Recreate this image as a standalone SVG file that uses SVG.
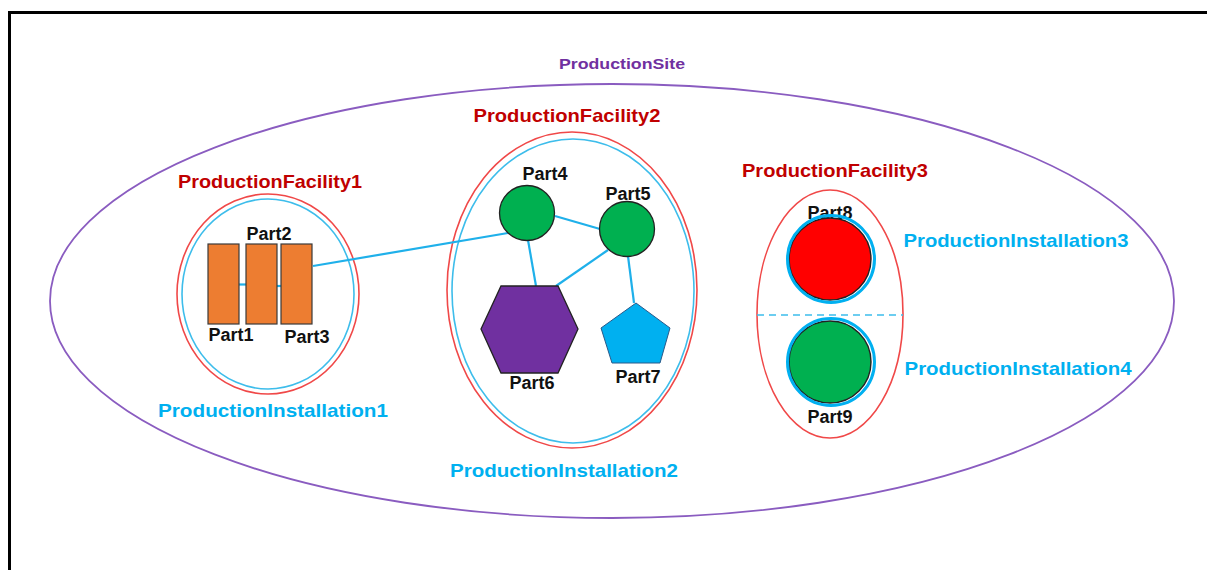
<svg xmlns="http://www.w3.org/2000/svg" width="1207" height="570" viewBox="0 0 1207 570">
<style>
text{font-family:"Liberation Sans",Arial,sans-serif;font-weight:bold;text-anchor:middle}
.site{fill:#7030A0;font-size:15px}
.fac{fill:#C00000;font-size:19px}
.inst{fill:#00B0F0;font-size:19px}
.part{fill:#111;font-size:18px}
.redring{fill:none;stroke:#F04848;stroke-width:1.6}
.bluering{fill:none;stroke:#3DBDEB;stroke-width:1.6}
.conn{stroke:#1FB0EA;stroke-width:2.2;fill:none}
.rect{fill:#ED7D31;stroke:#3a3a3a;stroke-width:1.2}
.node{stroke:#222;stroke-width:1.3}
</style>
<rect width="1207" height="570" fill="#fff"/>
<path d="M9.5,570 V12.5 H1207" fill="none" stroke="#000" stroke-width="3"/>

<g id="site">
<ellipse cx="612" cy="301" rx="562" ry="217" fill="none" stroke="#8A5CC0" stroke-width="1.8"/>
<text class="site" x="622" y="69" textLength="126" lengthAdjust="spacingAndGlyphs">ProductionSite</text>
</g>

<g id="facility1">
<ellipse class="redring" cx="268" cy="294" rx="91" ry="100"/>
<text class="fac" x="270" y="188" textLength="184" lengthAdjust="spacingAndGlyphs">ProductionFacility1</text>
</g>
<g id="installation1">
<ellipse class="bluering" cx="268" cy="294" rx="86" ry="95"/>
<text class="inst" x="273" y="417" textLength="230" lengthAdjust="spacingAndGlyphs">ProductionInstallation1</text>
</g>

<g id="facility2">
<ellipse class="redring" cx="572" cy="290" rx="125" ry="158"/>
<text class="fac" x="567" y="122" textLength="187" lengthAdjust="spacingAndGlyphs">ProductionFacility2</text>
</g>
<g id="installation2">
<ellipse class="bluering" cx="573" cy="291" rx="121" ry="152"/>
<text class="inst" x="564" y="477" textLength="228" lengthAdjust="spacingAndGlyphs">ProductionInstallation2</text>
</g>

<g id="facility3">
<ellipse class="redring" cx="830" cy="314" rx="73" ry="124"/>
<text class="fac" x="835" y="177" textLength="186" lengthAdjust="spacingAndGlyphs">ProductionFacility3</text>
<line x1="757" y1="315" x2="903" y2="315" stroke="#3DBDEB" stroke-width="1.6" stroke-dasharray="7,5"/>
</g>

<g id="connectors">
<line class="conn" x1="239" y1="284.5" x2="246" y2="284.5"/>
<line class="conn" x1="277" y1="286" x2="281" y2="286"/>
<line class="conn" x1="313" y1="266" x2="508" y2="233"/>
<line class="conn" x1="555" y1="216" x2="600" y2="229"/>
<line class="conn" x1="528" y1="240" x2="536" y2="286"/>
<line class="conn" x1="608" y1="250" x2="556" y2="286"/>
<line class="conn" x1="628" y1="256" x2="634" y2="303"/>
</g>

<g id="part1">
<rect class="rect" x="208" y="244" width="31" height="80"/>
<text class="part" x="231" y="341">Part1</text>
</g>
<g id="part2">
<rect class="rect" x="246" y="244" width="31" height="80"/>
<text class="part" x="269" y="240">Part2</text>
</g>
<g id="part3">
<rect class="rect" x="281" y="244" width="31" height="80"/>
<text class="part" x="307" y="343">Part3</text>
</g>

<g id="part4">
<circle class="node" cx="527" cy="213" r="27.5" fill="#00B050"/>
<text class="part" x="545" y="180">Part4</text>
</g>
<g id="part5">
<circle class="node" cx="627" cy="229" r="27.5" fill="#00B050"/>
<text class="part" x="628" y="200">Part5</text>
</g>
<g id="part6">
<polygon class="node" points="481,329 501,286 558,286 578,329 558,373 501,373" fill="#7030A0"/>
<text class="part" x="532" y="389">Part6</text>
</g>
<g id="part7">
<polygon points="636,303 670,328 660,363 612,363 601,328" fill="#00B0F0" stroke="#2a5a8a" stroke-width="1"/>
<text class="part" x="638" y="383">Part7</text>
</g>

<g id="part8">
<text class="part" x="830" y="219">Part8</text>
<circle cx="830" cy="259" r="41" fill="#FF0000" stroke="#222" stroke-width="1.4"/>
<circle cx="831" cy="259" r="43.5" fill="none" stroke="#00B0F0" stroke-width="3"/>
</g>
<g id="installation3">
<text class="inst" x="1016" y="247" textLength="225" lengthAdjust="spacingAndGlyphs">ProductionInstallation3</text>
</g>

<g id="part9">
<circle cx="830" cy="362" r="41" fill="#00B050" stroke="#222" stroke-width="1.4"/>
<circle cx="831" cy="362" r="43.5" fill="none" stroke="#00B0F0" stroke-width="3"/>
<text class="part" x="830" y="423">Part9</text>
</g>
<g id="installation4">
<text class="inst" x="1018" y="375" textLength="227" lengthAdjust="spacingAndGlyphs">ProductionInstallation4</text>
</g>
</svg>
